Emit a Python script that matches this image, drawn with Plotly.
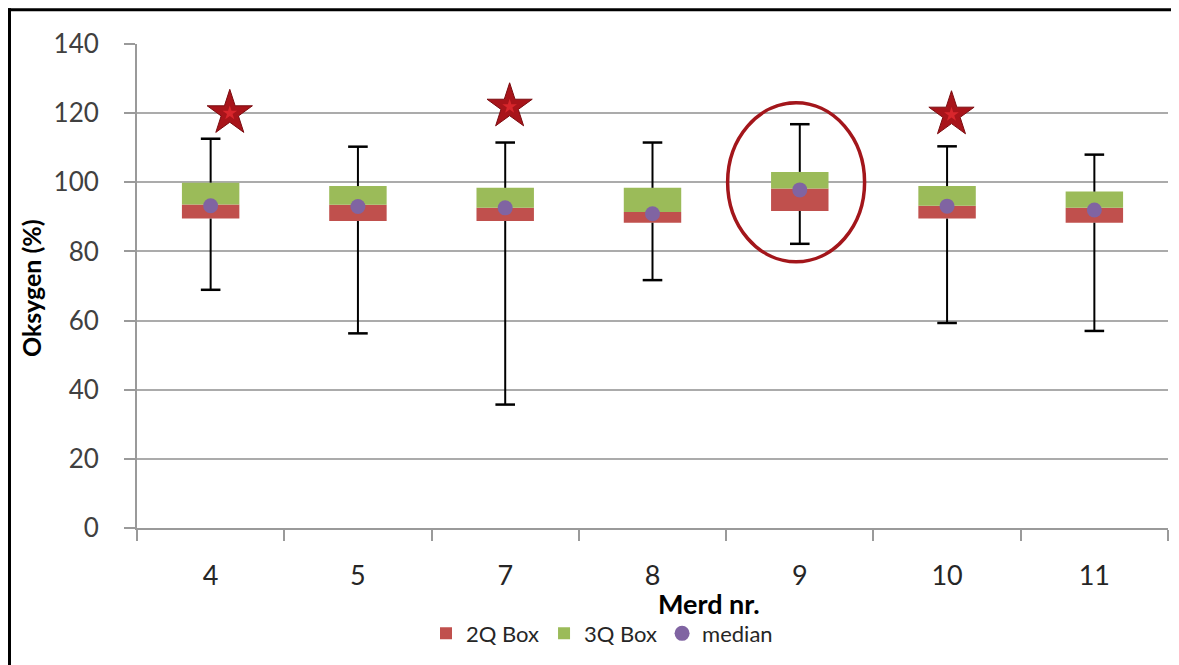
import plotly.graph_objects as go

# ---- data ----
merd = ["4", "5", "7", "8", "9", "10", "11"]
q1 = [89.5, 88.8, 88.8, 88.3, 91.7, 89.5, 88.3]
median = [93.6, 93.5, 92.6, 91.4, 98.2, 93.2, 92.6]
q3 = [99.9, 98.9, 98.4, 98.4, 103.0, 98.9, 97.3]
wmin = [68.9, 56.3, 35.7, 71.7, 82.2, 59.3, 57.0]
wmax = [112.6, 110.3, 111.5, 111.5, 116.8, 110.4, 108.0]
median_dot = [93.2, 93.0, 92.6, 90.9, 97.8, 93.1, 92.0]

star_merd = ["4", "7", "10"]
star_level = [120.0, 121.9, 119.6]
star_offset = [0.13, 0.03, 0.03]

circled_merd = "9"
circle_low, circle_high = 77.0, 123.0

RED = "#C0504D"
GREEN = "#9BBB59"
PURPLE = "#8064A2"
DARKRED = "#A3161B"
FONT = "Lato"

# browser body margin offset
OFF = 8
W, H = 1179 - OFF, 665 - OFF
# plot area in window pixels: x 137..1168, y 44..530
ML = 137 - OFF
MT = 44 - OFF
MR = W - (1168 - OFF)
MB = H - (530 - OFF)
pw, ph = W - ML - MR, H - MT - MB


def px_x(p):
    return (p - OFF - ML) / pw


def px_y(p):
    return (H - MB - (p - OFF)) / ph


fig = go.Figure()

# whisker stems (outside the box)
wx, wy = [], []
for m, a, b, lo, hi in zip(merd, q1, q3, wmin, wmax):
    wx += [m, m, None, m, m, None]
    wy += [b, hi, None, a, lo, None]
fig.add_trace(go.Scatter(x=wx, y=wy, mode="lines", line=dict(color="black", width=2),
                         showlegend=False, hoverinfo="skip"))
# whisker caps
fig.add_trace(go.Scatter(x=merd + merd, y=wmax + wmin, mode="markers",
                         marker=dict(symbol="line-ew", size=14, line=dict(color="black", width=2.5)),
                         showlegend=False, hoverinfo="skip"))

# boxes
fig.add_trace(go.Bar(x=merd, y=[m - a for m, a in zip(median, q1)], base=q1,
                     marker=dict(color=RED, line=dict(width=0)), width=0.39, name="2Q Box"))
fig.add_trace(go.Bar(x=merd, y=[b - m for b, m in zip(q3, median)], base=median,
                     marker=dict(color=GREEN, line=dict(width=0)), width=0.39, name="3Q Box"))

# median dots
fig.add_trace(go.Scatter(x=merd, y=median_dot, mode="markers", name="median",
                         marker=dict(color=PURPLE, size=15, symbol="circle")))

# stars on overlay numeric axis
sx = [merd.index(m) + o for m, o in zip(star_merd, star_offset)]
fig.add_trace(go.Scatter(x=sx, y=star_level, xaxis="x2", mode="markers", showlegend=False,
                         marker=dict(symbol="star", size=34, color="#A8141A",
                                     line=dict(color="#7A0C10", width=1)), hoverinfo="skip"))
fig.add_trace(go.Scatter(x=sx, y=star_level, xaxis="x2", mode="markers", showlegend=False,
                         marker=dict(symbol="star", size=11, color="#D8262C"), hoverinfo="skip"))

ci = merd.index(circled_merd)
shapes = [
    dict(type="circle", xref="x2", yref="y", x0=ci - 0.49, x1=ci + 0.44,
         y0=circle_low, y1=circle_high, line=dict(color=DARKRED, width=3.5)),
    # frame (top and left edges)
    dict(type="line", xref="paper", yref="paper", x0=px_x(8), x1=px_x(1190),
         y0=px_y(9.5), y1=px_y(9.5), line=dict(color="black", width=3)),
    dict(type="line", xref="paper", yref="paper", x0=px_x(9.5), x1=px_x(9.5),
         y0=px_y(8), y1=px_y(680), line=dict(color="black", width=3)),
]

annotations = [
    dict(text="<b>Merd nr.</b>", xref="paper", yref="paper", x=px_x(709), y=px_y(606),
         xanchor="center", yanchor="middle",
         showarrow=False, font=dict(family=FONT, size=27, color="black")),
    dict(text="<b>Oksygen (%)</b>", xref="paper", yref="paper", x=px_x(31), y=px_y(289),
         xanchor="center", yanchor="middle",
         showarrow=False, textangle=-90, font=dict(family=FONT, size=25, color="black")),
]

fig.update_layout(
    width=W, height=H,
    margin=dict(l=ML, r=MR, t=MT, b=MB),
    paper_bgcolor="white", plot_bgcolor="white",
    barmode="overlay",
    font=dict(family=FONT, size=18, color="#404040"),
    xaxis=dict(type="category", categoryorder="array", categoryarray=merd,
               showline=True, linecolor="#9A9A9A", linewidth=2,
               ticks="outside", tickson="boundaries", ticklen=11, tickcolor="#9A9A9A", tickwidth=2,
               tickfont=dict(family=FONT, size=27, color="#262626"), ticklabelstandoff=23,
               showgrid=False, zeroline=False, range=[-0.5, 6.5], fixedrange=True),
    xaxis2=dict(overlaying="x", range=[-0.5, 6.5], visible=False, showgrid=False, zeroline=False),
    yaxis=dict(range=[0, 140], dtick=20, showgrid=True, gridcolor="#ABABAB", gridwidth=2,
               showline=True, linecolor="#9A9A9A", linewidth=2, zeroline=False,
               ticks="outside", ticklen=11, tickcolor="#9A9A9A", tickwidth=2,
               tickfont=dict(family=FONT, size=26, color="#404040"), ticklabelstandoff=20),
    legend=dict(orientation="h", xanchor="center", yanchor="middle",
                x=px_x(602), y=px_y(636), font=dict(family=FONT, size=22, color="#262626"),
                itemwidth=30, tracegroupgap=0, bgcolor="rgba(0,0,0,0)"),
    shapes=shapes, annotations=annotations,
    showlegend=True,
)

fig.write_html("out.html")
